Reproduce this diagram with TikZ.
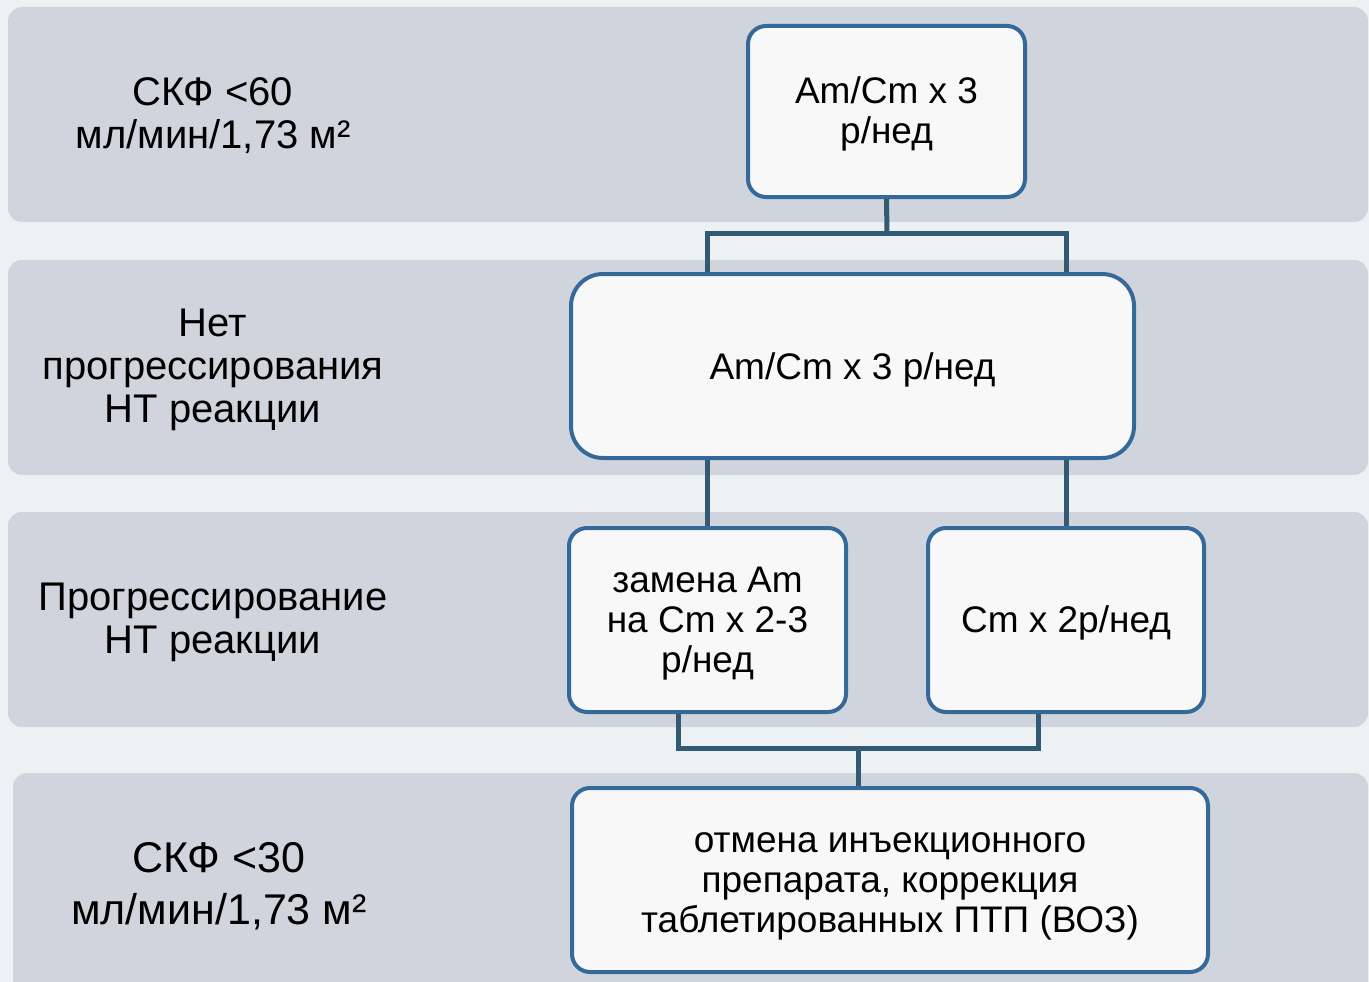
\documentclass[tikz,border=0pt]{standalone}
\usepackage{fontspec}
\setmainfont{Liberation Sans}
\definecolor{bgc}{HTML}{EEF1F4}
\definecolor{band}{HTML}{D0D5DD}
\definecolor{boxfill}{HTML}{F8F8F8}
\definecolor{boxline}{HTML}{35699A}
\definecolor{conn}{HTML}{325A72}
\tikzset{
  bandbox/.style={fill=band, draw=none, rounded corners=14pt},
  lbl/.style={align=center, font=\fontsize{40pt}{43pt}\selectfont, inner sep=0pt},
  stepbox/.style={draw=boxline, line width=4pt, fill=boxfill, inner sep=0pt, rounded corners=18pt},
  boxtext/.style={align=center, font=\fontsize{37pt}{40pt}\selectfont, inner sep=0pt},
  link/.style={draw=conn, line width=5pt}
}
\begin{document}
\begin{tikzpicture}[x=1pt,y=-1pt]
\useasboundingbox (0,0) rectangle (1369,982);
\clip (0,0) rectangle (1369,982);
\fill[bgc] (0,0) rectangle (1369,982);
% bands
\path[bandbox] (8,7) rectangle (1368,222);
\path[bandbox] (8,260) rectangle (1368,475);
\path[bandbox] (8,512) rectangle (1368,727);
\path[bandbox] (13,773) rectangle (1368,1010);
% left labels
\node[lbl] (l1) at (213,116) {СКФ <60\\мл/мин/1,73 м²};
\node[lbl] (l2) at (213,370) {Нет\\прогрессирования\\НТ реакции};
\node[lbl] (l3) at (213,622) {Прогрессирование\\НТ реакции};
\node[lbl, font=\fontsize{43pt}{52pt}\selectfont] (l4) at (219,886) {СКФ <30\\мл/мин/1,73 м²};
% boxes
\node[stepbox, minimum width=277pt, minimum height=171pt] (b1) at (886.5,111.5) {};
\node[stepbox, minimum width=563pt, minimum height=184pt, rounded corners=32pt] (b2) at (852.5,366) {};
\node[stepbox, minimum width=277pt, minimum height=184pt] (b3) at (707.5,620) {};
\node[stepbox, minimum width=276pt, minimum height=184pt] (b4) at (1066,620) {};
\node[stepbox, minimum width=636pt, minimum height=184pt] (b5) at (890,880) {};
\node[boxtext] (t1) at ([yshift=-2pt]b1.center) {Am/Cm x 3\\р/нед};
\node[boxtext] (t2) at ([yshift=-4pt]b2.center) {Am/Cm x 3 р/нед};
\node[boxtext] (t3) at ([yshift=-4pt]b3.center) {замена Am\\на Cm x 2-3\\р/нед};
\node[boxtext] (t4) at ([yshift=-3pt]b4.center) {Cm x 2р/нед};
\node[boxtext] (t5) at ([yshift=-6pt]b5.center) {отмена инъекционного\\препарата, коррекция\\таблетированных ПТП (ВОЗ)};
% connectors
\coordinate (j1) at (887,233);
\coordinate (j2) at (858,748);
\draw[link] (b1.south) -- (j1);
\draw[link] (b2.north -| b3.north) |- (j1) -| (b2.north -| b4.north);
\draw[link] (b2.south -| b3.north) -- (b3.north);
\draw[link] (b2.south -| b4.north) -- (b4.north);
\draw[link] ([xshift=-29.5pt]b3.south) |- (j2) -| ([xshift=-28pt]b4.south);
\draw[link] (j2) -- (j2 |- b5.north);
\end{tikzpicture}
\end{document}
